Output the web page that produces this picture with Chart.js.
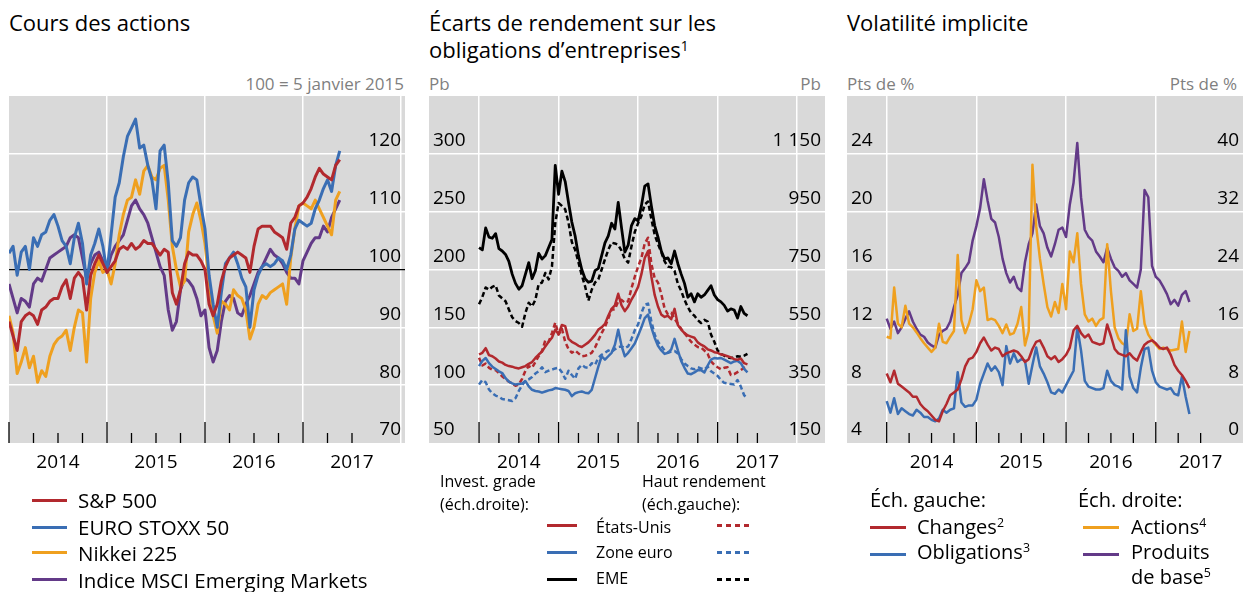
<!DOCTYPE html>
<html lang="fr">
<head>
<meta charset="utf-8">
<title>Cours des actions, écarts de rendement, volatilité implicite</title>
<script src="https://cdn.jsdelivr.net/npm/chart.js@4.4.1/dist/chart.umd.min.js"></script>
<style>
  html, body { margin: 0; padding: 0; background: #fff; }
  body { width: 1250px; height: 592px; position: relative; overflow: hidden;
         font-family: 'Open Sans', sans-serif; color: #000; }
  .t    { position: absolute; white-space: nowrap; line-height: 1; }
  .ttl  { font-size: 22px; }
  .unit { font-size: 17px; color: #7f7f7f; }
  .lg1  { font-size: 20.5px; }
  .lg2  { font-size: 16px; }
  .lg3  { font-size: 20px; }
  .sup  { font-size: 0.62em; position: relative; top: -0.55em; }
  .sw   { position: absolute; height: 3px; }
  canvas { position: absolute; }
</style>
</head>
<body>

<!-- titres -->
<div class="t ttl" style="left:9px;top:11px;">Cours des actions</div>
<div class="t ttl" style="left:429px;top:11px;">Écarts de rendement sur les</div>
<div class="t ttl" style="left:429px;top:38px;">obligations d’entreprises<span class="sup">1</span></div>
<div class="t ttl" style="left:847px;top:11px;">Volatilité implicite</div>

<!-- unités -->
<div class="t unit" style="right:846px;top:75px;">100 = 5 janvier 2015</div>
<div class="t unit" style="left:429px;top:75px;">Pb</div>
<div class="t unit" style="right:429px;top:75px;">Pb</div>
<div class="t unit" style="left:847px;top:75px;">Pts de %</div>
<div class="t unit" style="right:13px;top:75px;">Pts de %</div>

<canvas id="cStocks" width="408" height="395" style="left:3px;top:92px;"></canvas>
<canvas id="cSpreads" width="408" height="395" style="left:423px;top:92px;"></canvas>
<canvas id="cVol" width="408" height="395" style="left:841px;top:92px;"></canvas>

<!-- légende 1 -->
<div class="sw" style="left:32px;top:499px;width:35px;background:#B2292E;"></div>
<div class="t lg1" style="left:78px;top:490px;">S&amp;P 500</div>
<div class="sw" style="left:32px;top:526px;width:35px;background:#3A6EB4;"></div>
<div class="t lg1" style="left:78px;top:517px;">EURO STOXX 50</div>
<div class="sw" style="left:32px;top:551px;width:35px;background:#EFA01F;"></div>
<div class="t lg1" style="left:78px;top:543px;">Nikkei 225</div>
<div class="sw" style="left:32px;top:578px;width:35px;background:#633A88;"></div>
<div class="t lg1" style="left:78px;top:570px;">Indice MSCI Emerging Markets</div>

<!-- légende 2 -->
<div class="t lg2" style="left:440px;top:473px;">Invest. grade</div>
<div class="t lg2" style="left:440px;top:496px;">(éch.droite):</div>
<div class="t lg2" style="left:642px;top:473px;">Haut rendement</div>
<div class="t lg2" style="left:642px;top:496px;">(éch.gauche):</div>
<div class="sw" style="left:547px;top:524px;width:30px;background:#B2292E;"></div>
<div class="t lg2" style="left:596px;top:519px;">États-Unis</div>
<div class="sw" style="left:717px;top:524px;width:36px;background:repeating-linear-gradient(90deg,#B2292E 0 5px,transparent 5px 9px);"></div>
<div class="sw" style="left:547px;top:551px;width:30px;background:#3A6EB4;"></div>
<div class="t lg2" style="left:596px;top:544px;">Zone euro</div>
<div class="sw" style="left:717px;top:551px;width:36px;background:repeating-linear-gradient(90deg,#3A6EB4 0 5px,transparent 5px 9px);"></div>
<div class="sw" style="left:547px;top:578px;width:30px;background:#000;"></div>
<div class="t lg2" style="left:596px;top:570px;">EME</div>
<div class="sw" style="left:717px;top:578px;width:36px;background:repeating-linear-gradient(90deg,#000 0 5px,transparent 5px 9px);"></div>

<!-- légende 3 -->
<div class="t lg3" style="left:870px;top:490px;">Éch. gauche:</div>
<div class="sw" style="left:870px;top:526px;width:36px;background:#B2292E;"></div>
<div class="t lg3" style="left:917px;top:517px;">Changes<span class="sup">2</span></div>
<div class="sw" style="left:870px;top:553px;width:36px;background:#3A6EB4;"></div>
<div class="t lg3" style="left:917px;top:542px;">Obligations<span class="sup">3</span></div>
<div class="t lg3" style="left:1078px;top:490px;">Éch. droite:</div>
<div class="sw" style="left:1083px;top:526px;width:36px;background:#EFA01F;"></div>
<div class="t lg3" style="left:1131px;top:517px;">Actions<span class="sup">4</span></div>
<div class="sw" style="left:1083px;top:553px;width:36px;background:#633A88;"></div>
<div class="t lg3" style="left:1131px;top:542px;">Produits</div>
<div class="t lg3" style="left:1131px;top:567px;">de base<span class="sup">5</span></div>

<script>
// ── mois depuis janvier 2014 (un point toutes les deux semaines) ──
var months = [0, 0.5, 1, 1.5, 2, 2.5, 3, 3.5, 4, 4.5,
  5, 5.5, 6, 6.5, 7, 7.5, 8, 8.5, 9, 9.5,
  10, 10.5, 11, 11.5, 12, 12.5, 13, 13.5, 14, 14.5,
  15, 15.5, 16, 16.5, 17, 17.5, 18, 18.5, 19, 19.5,
  20, 20.5, 21, 21.5, 22, 22.5, 23, 23.5, 24, 24.5,
  25, 25.5, 26, 26.5, 27, 27.5, 28, 28.5, 29, 29.5,
  30, 30.5, 31, 31.5, 32, 32.5, 33, 33.5, 34, 34.5,
  35, 35.5, 36, 36.5, 37, 37.5, 38, 38.5, 39, 39.5,
  40, 40.5];
var tickMonths = [0, 3, 6, 9, 12, 15, 18, 21, 24, 27, 30, 33, 36, 39, 42];
var yearLabels = ['2014', '2015', '2016', '2017'];

// ── Cours des actions (100 = 5 janvier 2015) ──
var spx = [91, 88.5, 86, 91, 92, 92.5, 92, 90.5, 93, 93.5,
  94.5, 95, 95, 97, 98.2, 95, 98.5, 99.5, 98.5, 93,
  99, 101, 102.5, 101, 99.5, 100.5, 101.5, 103.5, 104, 103.5,
  104.5, 103.5, 104, 105, 104.5, 104.5, 103.5, 102.5, 103.5, 103,
  96, 94, 96.5, 101, 103, 102.5, 102.5, 101.5, 100, 94,
  92, 94, 98, 100.5, 102, 102.5, 103, 102.5, 102, 99.5,
  104, 107, 107.5, 107.5, 107.5, 106.5, 106, 105.5, 103.5, 108,
  109, 111, 111.5, 112.5, 114, 116, 117.5, 116.5, 116, 115.5,
  118, 119];
var stoxx = [102.8, 104, 99, 103, 104, 100, 105.5, 104, 106, 106.5,
  108.5, 109.5, 107.5, 105, 104, 101, 105.5, 108, 104.5, 97.5,
  102.5, 104.5, 107, 104, 99.5, 106, 112.5, 115, 119.5, 123,
  124.5, 126, 121, 121.5, 118, 115.5, 110.5, 120.5, 121.5, 115,
  105, 104, 105.5, 112, 115, 116, 115.5, 111, 107, 99,
  94, 90, 96, 101, 102, 103, 101, 98.5, 97, 90,
  96.5, 99, 100.5, 101, 100.5, 101, 102, 101.5, 100, 102.5,
  107, 108.5, 108, 107.5, 108, 110.5, 112, 114, 115.5, 113.5,
  118, 120.5];
var nikkei = [92, 89, 82, 84, 86.5, 83, 85, 80.5, 82.5, 81.5,
  85, 87, 88, 88.5, 89.5, 86, 90, 93, 92.5, 84,
  95, 99.5, 101.5, 99.5, 100, 97.5, 101, 106, 109.5, 112,
  112.5, 115.5, 113, 117, 118, 116, 115.5, 117.5, 118, 112,
  104, 100, 97, 98, 106.5, 109.5, 111.5, 108.5, 104.5, 98,
  92, 89, 94.5, 94, 93, 96.5, 95.5, 95, 93, 88,
  90, 94, 95.5, 95, 96, 96.5, 97, 97.5, 94, 102,
  107, 111, 111.5, 111, 110.5, 112, 110.5, 109, 107.5, 106,
  112, 113.5];
var msciEm = [97.5, 95, 92.5, 95, 94.5, 93.5, 97.5, 98.5, 98, 100,
  102, 102.5, 103, 103.5, 104, 105.5, 106, 105.5, 102, 98.5,
  101, 102.5, 103, 101.5, 100, 102.5, 104, 105, 106, 108.5,
  111, 112, 110.5, 109.5, 108, 105.5, 103, 100.5, 99, 93,
  89.5, 91, 96.5, 98.5, 98, 97, 95, 92, 93, 86.5,
  84, 86, 91, 94.5, 95.5, 95, 92.5, 92, 94, 95.5,
  97.5, 99.5, 100.5, 102, 103.5, 102.5, 102, 101, 99.5, 98.5,
  98.5, 97.5, 101.5, 103, 104.5, 105.5, 105.5, 107.5, 106.5, 109,
  110.5, 112];

// ── Écarts de rendement, pb : invest. grade (traits pleins) ──
var igUS = [126.5, 128, 132, 126, 125, 123, 120.5, 119.5, 117.5, 116.5,
  116, 115, 114.5, 115.5, 116.5, 118.5, 120, 123.5, 126.5, 129,
  133.5, 137.5, 141, 148, 144, 152, 151, 140, 137.5, 136,
  134, 133, 135, 137, 140, 143.5, 148, 150, 153, 160,
  166, 169, 179, 169, 164, 168, 174, 179, 185, 196,
  210, 216, 194, 178, 168, 161, 159, 160, 157, 166,
  152, 148, 145, 143, 142, 141, 137, 135, 133.5, 131,
  130, 128.5, 128, 126.5, 126, 125, 124, 122.5, 122, 123,
  119, 118];
var igEA = [116.5, 121, 123.5, 119, 116, 114, 112, 110.5, 106, 103,
  101.5, 100.5, 101, 101.5, 103.5, 99, 96, 95, 94.5, 93.5,
  94.5, 95.5, 96, 97.5, 97, 96.5, 96, 95, 90.5, 93,
  94, 94.5, 93.5, 93, 96, 106, 116, 125, 122, 125,
  128, 135, 148, 134, 125, 128, 132, 136, 143, 150,
  158, 161, 150, 141, 134, 130, 127, 128, 131, 140,
  130, 121, 115, 110, 109.5, 111, 113, 113, 111, 117,
  122, 123.5, 123, 123.5, 122, 120.5, 119, 120.5, 121, 119,
  114, 111];
var igEM = [219, 217, 236, 228, 227, 231, 218, 216, 213, 207,
  196, 188, 183, 186, 196, 206, 192, 199, 214, 209,
  212, 219, 226, 290, 265, 285, 276, 258, 241, 229,
  212, 200, 192, 189, 190, 199, 201, 212, 223, 229,
  240, 235, 258, 236, 215, 221, 238, 244, 242, 255,
  272, 274, 255, 238, 228, 216, 209, 210, 205, 216,
  205, 196, 188, 176, 179, 172, 179, 176, 178, 182,
  186, 178, 174, 172, 169, 164, 166, 165, 158, 168,
  162, 160];
// haut rendement (pointillés)
var hyUS = [445, 418, 425, 410, 404, 402, 392, 380, 372, 362,
  356, 348, 352, 372, 400, 416, 410, 430, 450, 468,
  505, 500, 530, 566, 525, 545, 500, 475, 462, 470,
  460, 450, 452, 455, 462, 480, 505, 530, 552, 580,
  612, 612, 640, 645, 635, 640, 685, 725, 760, 790,
  840, 860, 770, 720, 705, 665, 615, 595, 600, 580,
  562, 545, 530, 515, 500, 490, 482, 480, 470, 458,
  432, 420, 412, 405, 410, 412, 385, 388, 395, 402,
  410, 415];
var hyEA = [352, 368, 360, 335, 322, 314, 310, 302, 300, 298,
  295, 305, 330, 350, 365, 370, 378, 390, 398, 412,
  395, 400, 404, 408, 410, 395, 372, 400, 385, 372,
  408, 420, 412, 410, 426, 420, 445, 455, 462, 470,
  465, 474, 482, 484, 478, 484, 510, 540, 560, 600,
  628, 632, 570, 525, 500, 485, 470, 462, 466, 468,
  460, 440, 425, 416, 408, 405, 412, 408, 404, 414,
  398, 390, 382, 368, 358, 356, 354, 352, 368, 345,
  315, 305];
var hyEM = [630, 655, 688, 680, 690, 695, 660, 650, 640, 612,
  585, 572, 565, 552, 600, 635, 622, 645, 700, 705,
  738, 716, 760, 910, 980, 970, 958, 912, 845, 818,
  775, 730, 692, 642, 680, 705, 716, 750, 785, 818,
  843, 840, 835, 815, 786, 774, 830, 880, 910, 935,
  975, 985, 925, 870, 838, 810, 778, 760, 758, 745,
  700, 676, 645, 620, 600, 590, 575, 565, 576, 570,
  525, 500, 470, 458, 452, 446, 444, 445, 450, 448,
  452, 458];

// ── Volatilité implicite, pts de % ──
var volFx = [8.8, 8.2, 9.0, 8.1, 7.9, 7.7, 7.5, 7.2, 7.2, 6.7,
  6.4, 6.2, 5.9, 5.6, 5.5, 6.2, 6.7, 7.3, 7.5, 7.7,
  8.4, 9.3, 9.8, 9.9, 10.3, 10.9, 11.3, 10.8, 10.4, 10.6,
  10.5, 10.0, 10.2, 10.3, 10.4, 10.3, 10.0, 9.6, 9.8, 10.5,
  11.0, 11.1, 10.6, 10.0, 9.8, 10.0, 9.6, 9.8, 10.1, 10.6,
  11.8, 12.1, 11.6, 11.3, 11.5, 11.0, 10.9, 10.8, 10.9, 12.2,
  11.4, 10.5, 10.2, 10.1, 10.0, 10.2, 9.9, 9.7, 10.3, 10.8,
  11.0, 11.1, 10.9, 10.6, 10.5, 10.6, 10.1, 9.4, 9.0, 8.7,
  8.3, 7.8];
var volBonds = [6.9, 6.1, 7.1, 6.0, 6.4, 6.2, 6.0, 5.9, 6.3, 6.1,
  5.8, 5.8, 5.6, 5.5, 5.7, 6.3, 6.1, 6.3, 6.4, 8.9,
  6.8, 6.5, 6.6, 6.6, 7.0, 8.1, 8.8, 9.5, 9.0, 9.3,
  8.9, 8.0, 10.7, 9.5, 10.2, 9.6, 9.8, 9.7, 8.1, 9.4,
  10.6, 9.3, 8.8, 8.2, 7.5, 7.4, 7.7, 7.5, 8.0, 8.5,
  9.0, 12.0, 10.4, 8.3, 7.9, 7.8, 7.7, 7.7, 7.8, 9.0,
  8.3, 8.0, 7.9, 7.7, 11.8, 8.6, 7.8, 7.5, 9.2, 10.5,
  10.6, 9.0, 8.2, 7.9, 7.8, 7.7, 7.8, 7.4, 7.3, 8.6,
  7.2, 6.0];
var volEquity = [14.7, 14.5, 21.5, 16.5, 16.0, 19.0, 16.5, 16.0, 15.3, 14.5,
  13.8, 13.2, 12.6, 13.2, 16.5, 14.0, 13.8, 14.7, 15.5, 26.0,
  17.0, 15.2, 16.5, 18.5, 22.5, 21.0, 21.5, 17.0, 17.2, 17.0,
  16.2, 15.2, 16.4, 15.0, 15.2, 16.5, 18.8, 13.5, 15.5, 38.5,
  30.0, 25.5, 22.0, 18.8, 17.5, 19.5, 18.0, 22.0, 18.5, 26.5,
  25.0, 29.0, 22.0, 17.8, 16.8, 17.2, 16.2, 17.0, 17.3, 27.5,
  21.0, 16.0, 14.5, 13.8, 13.5, 17.8, 15.5, 15.8, 21.0, 16.5,
  15.0, 14.2, 13.6, 13.0, 13.2, 13.0, 12.8, 12.9, 13.0, 16.8,
  12.6, 15.5];
var volCommod = [17.2, 15.8, 16.8, 15.2, 16.0, 17.2, 18.2, 16.8, 15.8, 15.0,
  14.7, 13.9, 13.5, 13.2, 15.0, 15.5, 15.8, 16.8, 18.8, 20.5,
  23.5, 24.2, 25.0, 28.0, 30.0, 32.5, 36.5, 33.5, 31.0, 30.5,
  28.5, 25.5, 23.5, 22.2, 23.0, 21.5, 21.0, 25.0, 27.5, 29.0,
  33.0, 30.0, 29.0, 27.0, 25.8, 27.5, 29.5, 29.8, 28.5, 33.0,
  36.0, 41.5, 34.0, 29.5, 28.5, 28.0, 26.5, 25.8, 25.0, 27.0,
  25.5, 24.3, 23.8, 23.0, 23.5, 22.5, 22.0, 21.5, 24.0, 35.0,
  34.0, 24.5, 23.0, 22.5, 21.6, 20.6, 19.2, 19.8, 19.0, 20.5,
  21.0, 19.5];

var RED = '#B2292E', BLUE = '#3A6EB4', ORANGE = '#EFA01F', PURPLE = '#633A88';
var FONT = "'Open Sans', sans-serif";
var NONE = 'rgba(0,0,0,0)';

function pts(arr) {
  return arr.map(function(v, i) { return { x: months[i], y: v }; });
}

function serie(label, arr, color, axis, width, dash) {
  return {
    label: label, data: pts(arr), yAxisID: axis,
    borderColor: color, borderWidth: width, borderDash: dash || [],
    pointRadius: 0, tension: 0, fill: false, borderJoinStyle: 'round'
  };
}

// fond gris + petites graduations noires en bas du panneau
var panelDeco = {
  id: 'panelDeco',
  beforeDraw: function(chart) {
    var a = chart.chartArea, ctx = chart.ctx;
    ctx.save();
    ctx.fillStyle = '#D9D9D9';
    ctx.fillRect(a.left, a.top, a.right - a.left, a.bottom - a.top);
    ctx.restore();
  },
  afterDraw: function(chart) {
    var a = chart.chartArea, ctx = chart.ctx, xs = chart.scales.x;
    ctx.save();
    ctx.strokeStyle = '#000';
    ctx.lineWidth = 1.3;
    tickMonths.forEach(function(m) {
      var px = xs.getPixelForValue(m);
      var len = m % 12 === 0 ? 21 : 10;
      ctx.beginPath();
      ctx.moveTo(px, a.bottom);
      ctx.lineTo(px, a.bottom - len);
      ctx.stroke();
    });
    ctx.restore();
  }
};

function xAxis(min, max) {
  return {
    type: 'linear', min: min, max: max,
    afterFit: function(s) { s.height = 44; s.paddingLeft = 0; s.paddingRight = 0; },
    border: { display: false },
    grid: {
      drawTicks: false, lineWidth: 1.5,
      color: function(c) { var v = c.tick.value; return (v % 12 === 0 && v > min) ? '#fff' : NONE; }
    },
    ticks: {
      stepSize: 3, autoSkip: false, maxRotation: 0, includeBounds: false, padding: 8,
      color: '#000', font: { family: FONT, size: 19 },
      callback: function(v) { return v % 12 === 6 ? (yearLabels[(v - 6) / 12] || '') : ''; }
    }
  };
}

function yAxis(pos, min, max, step, top, showGrid, blackAt, fmt) {
  return {
    position: pos, min: min, max: max,
    afterFit: function(s) { s.width = 0; s.paddingTop = 0; s.paddingBottom = 0; },
    border: { display: false },
    grid: {
      display: showGrid, drawTicks: false,
      lineWidth: function(c) { return c.tick.value === blackAt ? 1.3 : 1.5; },
      color: function(c) {
        var v = c.tick.value;
        if (v <= min || v > top) return NONE;
        return v === blackAt ? '#000' : '#fff';
      }
    },
    ticks: {
      mirror: true, stepSize: step, padding: pos === 'right' ? -4 : 4, labelOffset: -13,
      color: '#000', font: { family: FONT, size: 19 },
      callback: function(v) { return v > top ? null : (fmt ? fmt(v) : String(v)); }
    }
  };
}

function spaced(v) { return String(v).replace(/\B(?=(\d{3})+(?!\d))/g, ' '); }

function baseOptions(scales) {
  return {
    responsive: false, animation: false, devicePixelRatio: 1,
    layout: { padding: { left: 6, right: 6, top: 4, bottom: 0 } },
    plugins: { legend: { display: false }, tooltip: { enabled: false } },
    scales: scales
  };
}

new Chart(document.getElementById('cStocks'), {
  type: 'line',
  data: { datasets: [
    serie('S&P 500', spx, RED, 'y', 3),
    serie('EURO STOXX 50', stoxx, BLUE, 'y', 3),
    serie('Nikkei 225', nikkei, ORANGE, 'y', 3),
    serie('Indice MSCI Emerging Markets', msciEm, PURPLE, 'y', 3)
  ] },
  options: baseOptions({
    x: xAxis(0, 48.49),
    y: yAxis('right', 70, 130, 10, 120, true, 100)
  }),
  plugins: [panelDeco]
});

new Chart(document.getElementById('cSpreads'), {
  type: 'line',
  data: { datasets: [
    serie('États-Unis (IG)', igUS, RED, 'yL', 2.5),
    serie('Zone euro (IG)', igEA, BLUE, 'yL', 2.5),
    serie('EME (IG)', igEM, '#000', 'yL', 2.8),
    serie('États-Unis (HR)', hyUS, RED, 'yR', 2.5, [5, 3]),
    serie('Zone euro (HR)', hyEA, BLUE, 'yR', 2.5, [5, 3]),
    serie('EME (HR)', hyEM, '#000', 'yR', 2.5, [5, 3])
  ] },
  options: baseOptions({
    x: xAxis(-7.55, 52.2),
    yL: yAxis('left', 50, 350, 50, 300, true, null),
    yR: yAxis('right', 150, 1350, 200, 1150, false, null, spaced)
  }),
  plugins: [panelDeco]
});

new Chart(document.getElementById('cVol'), {
  type: 'line',
  data: { datasets: [
    serie('Changes', volFx, RED, 'yL', 2.5),
    serie('Obligations', volBonds, BLUE, 'yL', 2.5),
    serie('Actions', volEquity, ORANGE, 'yR', 2.5),
    serie('Produits de base', volCommod, PURPLE, 'yR', 2.5)
  ] },
  options: baseOptions({
    x: xAxis(-5.31, 47.67),
    yL: yAxis('left', 4, 28, 4, 24, true, null),
    yR: yAxis('right', 0, 48, 8, 40, false, null)
  }),
  plugins: [panelDeco]
});
</script>
</body>
</html>
